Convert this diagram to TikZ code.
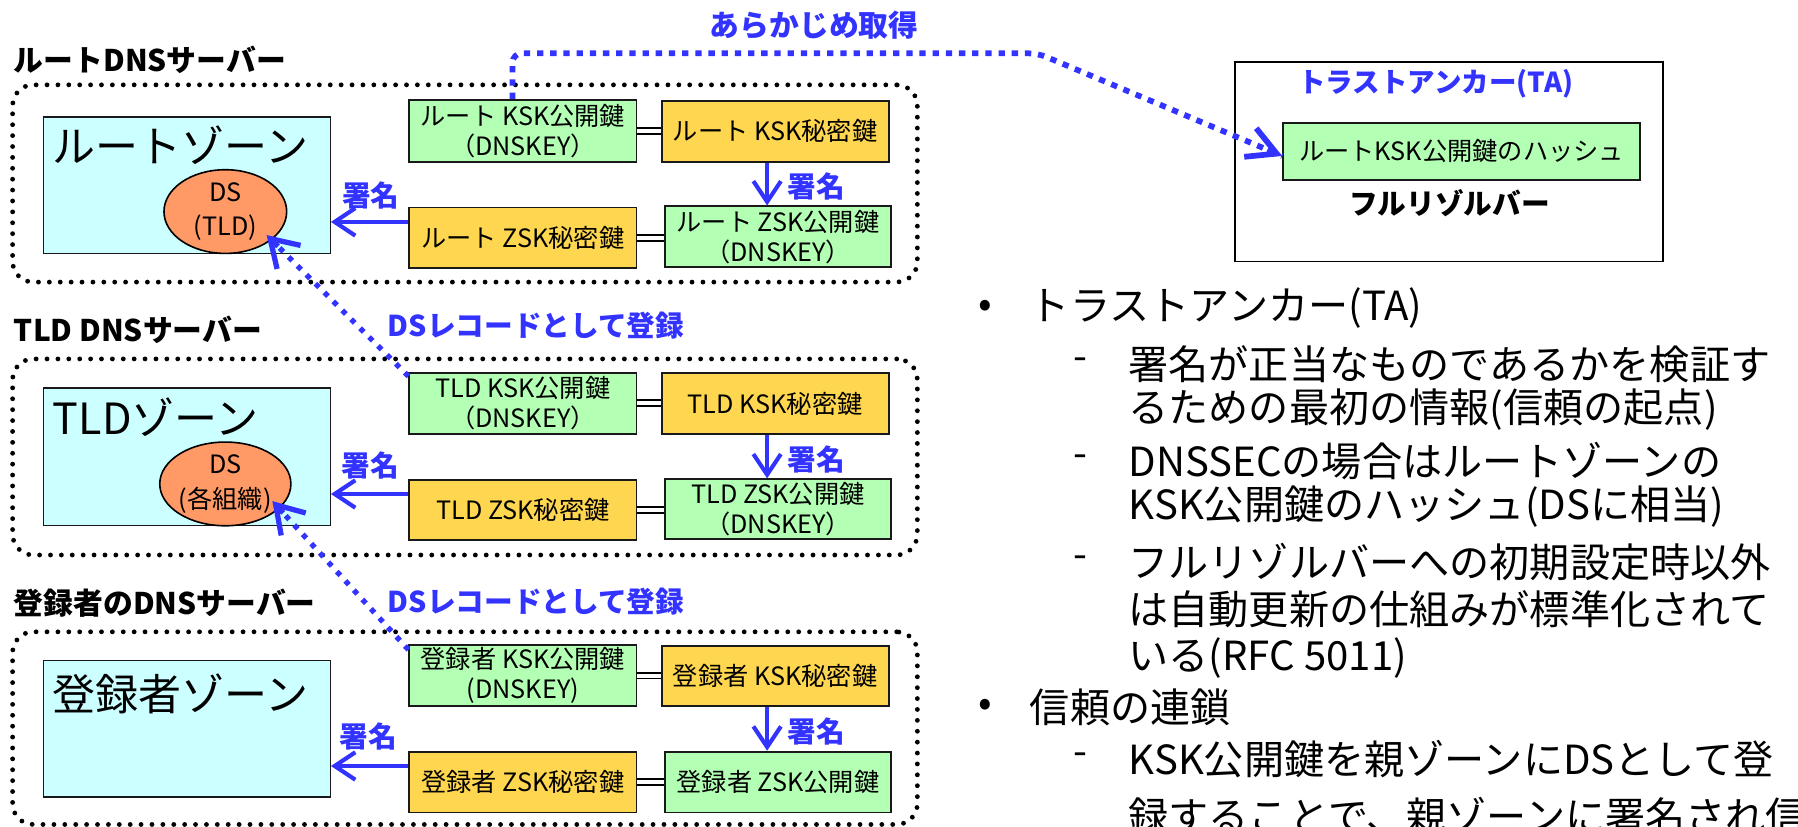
\documentclass[tikz,border=0pt]{standalone}
\usepackage{fontspec}
\setmainfont{Noto Sans CJK JP}
\usetikzlibrary{arrows.meta,shapes.geometric,calc}
\definecolor{sigblue}{RGB}{51,51,255}
\definecolor{keygreen}{RGB}{179,255,179}
\definecolor{keyorange}{RGB}{255,214,79}
\definecolor{zonecyan}{RGB}{204,255,255}
\definecolor{dsorange}{RGB}{255,153,102}
\definecolor{boxborder}{RGB}{25,25,25}
\tikzset{
  sectlabel/.style={font=\fontsize{26}{30}\selectfont\bfseries, text=black, inner sep=0, anchor=west},
  dotbox/.style={draw=black, line width=4.2pt, dash pattern=on 0pt off 9.5pt, line cap=round, rounded corners=18pt, inner sep=0},
  zone/.style={draw=boxborder, fill=zonecyan, line width=1.2pt, inner sep=0},
  zonetxt/.style={font=\fontsize{37.5}{40}\selectfont, inner sep=0, anchor=west},
  dsell/.style={ellipse, draw=black, fill=dsorange, line width=1.4pt, minimum width=107pt, minimum height=73pt, inner sep=0, align=center, font=\fontsize{22}{30}\selectfont},
  pubkey/.style={draw=boxborder, fill=keygreen, line width=1.6pt, inner sep=0, align=center, font=\fontsize{22}{26}\selectfont},
  privkey/.style={draw=boxborder, fill=keyorange, line width=1.6pt, inner sep=0, align=center, font=\fontsize{22}{26}\selectfont},
  signarrow/.style={draw=sigblue, line width=3.6pt, -{Straight Barb[length=18pt,width=24pt,line width=3.6pt]}},
  signlbl/.style={text=sigblue, font=\fontsize{25}{28}\selectfont\bfseries, inner sep=0},
  eqline/.style={draw=black, double=white, double distance=3.3pt, line width=1.7pt},
  dsline/.style={draw=sigblue, line width=4.6pt, dash pattern=on 4.5pt off 6.5pt},
  dstip/.style={draw=sigblue, solid, line width=4.6pt, -{Straight Barb[length=23pt,width=29pt,line width=4.6pt]}},
  fetchline/.style={draw=sigblue, line width=5pt, dash pattern=on 5.5pt off 6pt, rounded corners=8pt},
  fetchtip/.style={draw=sigblue, solid, line width=5pt, -{Straight Barb[length=25pt,width=27pt,line width=5pt]}},
  bluelbl/.style={text=sigblue, font=\fontsize{25}{28}\selectfont\bfseries, inner sep=0},
  tabox/.style={draw=black, line width=1.6pt, inner sep=0},
  btext/.style={font=\fontsize{35}{40}\selectfont, inner sep=0, anchor=west},
}
\begin{document}
\begin{tikzpicture}[x=1pt,y=-1pt]
\useasboundingbox (0,0) rectangle (1568,721);
\clip (0,0) rectangle (1568,721);

% ---------- Root ----------
\node[sectlabel] (rootlbl) at (12,52) {ルートDNSサーバー};
\node[dotbox, minimum width=789pt, minimum height=172pt] (rootsrv) at (405.5,160) {};
\node[zone, minimum width=250pt, minimum height=119pt] (rootzone) at (163,161.5) {};
\node[zonetxt] (rootzt) at (46,127) {ルートゾーン};
\node[dsell] (rootds) at (196.5,184.5) {DS\\(TLD)};
\node[pubkey, minimum width=198pt, minimum height=54pt] (rootkskpub) at (456,114) {ルート KSK公開鍵\\（DNSKEY）};
\node[privkey, minimum width=198pt, minimum height=53pt] (rootkskpriv) at (676,114.5) {ルート KSK秘密鍵};
\node[privkey, minimum width=198pt, minimum height=53pt] (rootzskpriv) at (456,207.5) {ルート ZSK秘密鍵};
\node[pubkey, minimum width=197pt, minimum height=53pt] (rootzskpub) at (678.5,206.5) {ルート ZSK公開鍵\\（DNSKEY）};
\draw[eqline] (rootkskpub.east) -- (rootkskpub.east -| rootkskpriv.west);
\draw[eqline] (rootzskpriv.east) -- (rootzskpriv.east -| rootzskpub.west);
\draw[signarrow] ([xshift=-7pt]rootkskpriv.south) -- ([xshift=-7pt]rootkskpriv.south |- rootzskpub.north);
\node[signlbl] (rootsig1) at (712,163) {署名};
\draw[signarrow] ([yshift=14pt]rootzskpriv.west) -- ([yshift=14pt]rootzskpriv.west -| rootzone.east);
\node[signlbl] (rootsig2) at (323.5,170.5) {署名};

% ---------- TLD ----------
\node[sectlabel] (tldlbl) at (12,288) {TLD DNSサーバー};
\node[dotbox, minimum width=789pt, minimum height=171pt] (tldsrv) at (405.5,398.5) {};
\node[zone, minimum width=250pt, minimum height=120pt] (tldzone) at (163,398.5) {};
\node[zonetxt] (tldzt) at (46,364) {TLDゾーン};
\node[dsell] (tldds) at (196.5,422) {DS\\(各組織)};
\node[pubkey, minimum width=198pt, minimum height=53.5pt] (tldkskpub) at (456,351.7) {TLD KSK公開鍵\\（DNSKEY）};
\node[privkey, minimum width=198pt, minimum height=53pt] (tldkskpriv) at (676,352) {TLD KSK秘密鍵};
\node[privkey, minimum width=198pt, minimum height=52.5pt] (tldzskpriv) at (456,444.8) {TLD ZSK秘密鍵};
\node[pubkey, minimum width=197pt, minimum height=52pt] (tldzskpub) at (678.5,444) {TLD ZSK公開鍵\\（DNSKEY）};
\draw[eqline] (tldkskpub.east) -- (tldkskpub.east -| tldkskpriv.west);
\draw[eqline] (tldzskpriv.east) -- (tldzskpriv.east -| tldzskpub.west);
\draw[signarrow] ([xshift=-7pt]tldkskpriv.south) -- ([xshift=-7pt]tldkskpriv.south |- tldzskpub.north);
\node[signlbl] (tldsig1) at (712,400.5) {署名};
\draw[signarrow] ([yshift=14pt]tldzskpriv.west) -- ([yshift=14pt]tldzskpriv.west -| tldzone.east);
\node[signlbl] (tldsig2) at (323,406) {署名};
\node[bluelbl, anchor=west] (tldreg) at (338,284) {DSレコードとして登録};
\coordinate (tldfrom) at ([yshift=-4pt]tldkskpub.north west);
\coordinate (roottip) at ([xshift=36pt,yshift=-20.5pt]rootds.center);
\draw[dsline] (tldfrom) -- (roottip);
\draw[dstip] ($(roottip)!14pt!(tldfrom)$) -- (roottip);

% ---------- Registrant ----------
\node[sectlabel] (reglbl) at (12,526) {登録者のDNSサーバー};
\node[dotbox, minimum width=789pt, minimum height=168pt] (regsrv) at (405.5,635) {};
\node[zone, minimum width=250pt, minimum height=119pt] (regzone) at (163,635.5) {};
\node[zonetxt] (regzt) at (46,605) {登録者ゾーン};
\node[pubkey, minimum width=198pt, minimum height=53.5pt] (regkskpub) at (456,589.2) {登録者 KSK公開鍵\\(DNSKEY)};
\node[privkey, minimum width=198pt, minimum height=53pt] (regkskpriv) at (676,589.5) {登録者 KSK秘密鍵};
\node[privkey, minimum width=198pt, minimum height=53pt] (regzskpriv) at (456,682) {登録者 ZSK秘密鍵};
\node[pubkey, minimum width=197pt, minimum height=53pt] (regzskpub) at (678.5,682) {登録者 ZSK公開鍵};
\draw[eqline] (regkskpub.east) -- (regkskpub.east -| regkskpriv.west);
\draw[eqline] (regzskpriv.east) -- (regzskpriv.east -| regzskpub.west);
\draw[signarrow] ([xshift=-7pt]regkskpriv.south) -- ([xshift=-7pt]regkskpriv.south |- regzskpub.north);
\node[signlbl] (regsig1) at (712,638) {署名};
\draw[signarrow] ([yshift=14pt]regzskpriv.west) -- ([yshift=14pt]regzskpriv.west -| regzone.east);
\node[signlbl] (regsig2) at (321,642) {署名};
\node[bluelbl, anchor=west] (regreg) at (338,525) {DSレコードとして登録};
\coordinate (regfrom) at ([yshift=-5pt]regkskpub.north west);
\coordinate (tldtip) at ([xshift=41pt,yshift=-15pt]tldds.center);
\draw[dsline] (regfrom) -- (tldtip);
\draw[dstip] ($(tldtip)!14pt!(regfrom)$) -- (tldtip);

% ---------- Trust anchor ----------
\node[bluelbl, font=\fontsize{26}{28}\selectfont\bfseries] (fetchlbl) at (710,22) {あらかじめ取得};
\node[tabox, minimum width=373pt, minimum height=174pt] (tabox) at (1263.5,141) {};
\node[bluelbl, font=\fontsize{24}{28}\selectfont\bfseries] (talbl) at (1252,73) {トラストアンカー(TA)};
\node[pubkey, minimum width=311pt, minimum height=50pt] (hashbox) at (1274.5,132) {ルートKSK公開鍵のハッシュ};
\node[font=\fontsize{25}{28}\selectfont\bfseries, inner sep=0] (resolver) at (1264,177) {フルリゾルバー};
\coordinate (fetchA) at (447,46.5);
\coordinate (fetchB) at (905,46.5);
\coordinate (fetchtipend) at ([yshift=-4pt]hashbox.west);
\draw[fetchline] (rootkskpub.north -| fetchA) -- (fetchA) -- (fetchB) -- (fetchtipend);
\draw[fetchtip] ($(fetchtipend)!14pt!(fetchB)$) -- (fetchtipend);

% ---------- Bullets ----------
\node[btext] (b1) at (853,269) {•};
\node[btext] (t1) at (898,269) {トラストアンカー(TA)};
\node[btext] (d1) at (936,318) {-};
\node[btext] (t11) at (984,318) {署名が正当なものであるかを検証す};
\node[btext] (t12) at (984,357) {るための最初の情報(信頼の起点)};
\node[btext] (d2) at (936,402) {-};
\node[btext] (t21) at (984,402) {DNSSECの場合はルートゾーンの};
\node[btext] (t22) at (984,442) {KSK公開鍵のハッシュ(DSに相当)};
\node[btext] (d3) at (936,490) {-};
\node[btext] (t31) at (984,490) {フルリゾルバーへの初期設定時以外};
\node[btext] (t32) at (984,531) {は自動更新の仕組みが標準化されて};
\node[btext] (t33) at (984,574) {いる(RFC 5011)};
\node[btext] (b2) at (853,617) {•};
\node[btext] (t2) at (898,617) {信頼の連鎖};
\node[btext] (d4) at (936,662) {-};
\node[btext] (t41) at (984,662) {KSK公開鍵を親ゾーンにDSとして登};
\node[btext] (t42) at (984,712) {録することで、親ゾーンに署名され信};
\end{tikzpicture}
\end{document}
